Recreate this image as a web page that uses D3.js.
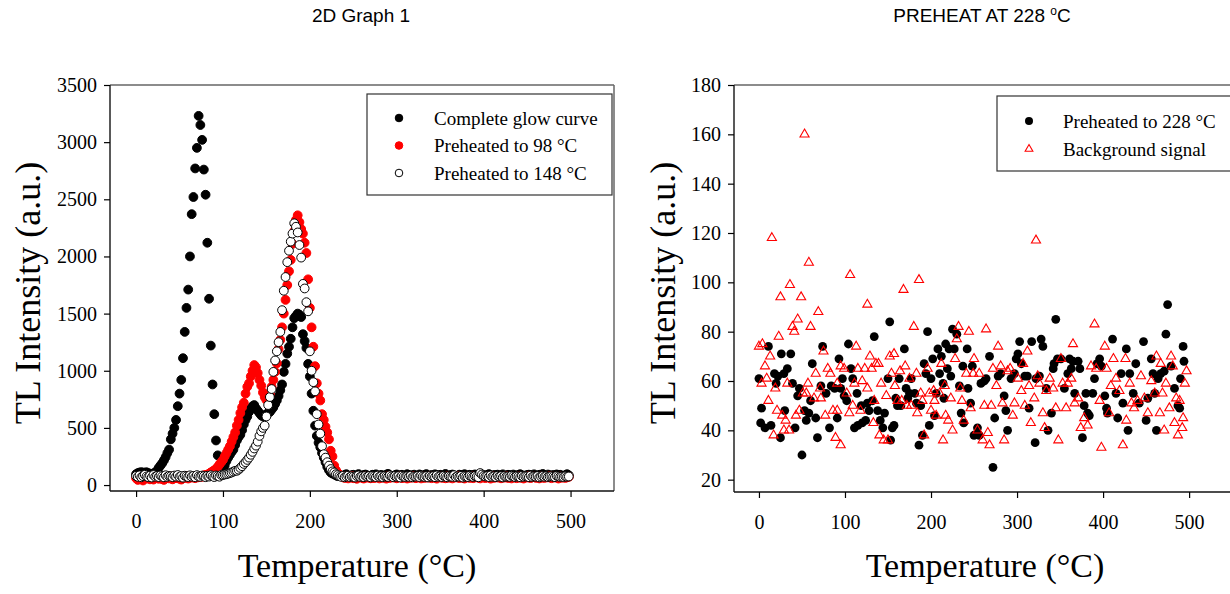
<!DOCTYPE html>
<html>
<head>
<meta charset="utf-8">
<script src="https://cdn.jsdelivr.net/npm/d3@7"></script>
<style>
  body { margin: 0; background: #fff; }
</style>
</head>
<body>
<script>
// ---- data: left panel, readings every 2 °C from 0 to 498 ----
const glowTemps = d3.range(0, 500, 2);

// complete glow curve (black filled circles)
const completeGlow = [
  95,105,110,112,110,108,112,105,100,98,102,
  110,125,150,170,190,215,245,280,310,
  400,450,500,570,690,800,920,1110,1340,1550,1710,2000,2370,2520,2770,2950,3230,3150,3020,2760,2540,2120,1630,1220,880,620,390,260,
  160,120,130,170,210,240,265,290,310,350,390,420,
  440,480,530,570,600,640,670,690,700,670,650,630,610,600,610,620,630,640,660,680,710,740,780,830,880,990,1060,1150,1210,1280,1380,
  1460,1480,1500,1490,1470,1320,1260,1200,1060,950,800,650,520,430,370,330,280,240,200,160,130,110,100,95,
  85,78,92,80,75,88,95,82,70,86,90,78,84,96,80,74,88,92,85,79,
  72,90,86,94,81,77,89,83,75,92,98,84,80,71,87,93,79,85,90,76,
  82,95,88,74,86,91,80,78,93,85,72,89,96,83,77,88,81,94,86,75,
  90,84,79,97,82,73,88,92,85,80,76,91,87,83,95,78,84,90,74,88,
  93,81,86,79,92,85,77,89,96,82,75,88,84,91,80,86,94,78,83,90,
  87,76,92,85,81,89,95,79,84,73,88,91,86,80,94,82,77,90,85,97,
  83,78,92,86,80,88,75,93,84,90,82,79,87,95,85
];

// preheated to 98 °C (red filled circles)
const preheat98 = [
  60,45,70,55,40,65,58,72,50,62,48,75,60,55,68,52,45,70,63,58,
  75,50,66,60,72,55,48,68,62,78,57,70,65,74,60,80,68,75,72,85,88,
  90,100,110,120,130,140,160,180,200,220,
  250,280,310,340,380,420,460,520,570,630,
  680,720,800,860,890,950,1000,1050,1030,980,
  920,870,810,770,745,770,800,860,920,990,
  1065,1190,1270,1380,1500,1620,1750,1870,1970,2110,
  2220,2320,2360,2300,2240,2200,2120,2030,1800,1550,
  1380,1210,1040,890,800,740,620,570,510,460,
  400,300,250,170,130,105,90,80,
  70,62,75,58,66,80,60,72,55,68,74,63,57,78,65,70,59,73,61,67,
  76,58,69,64,72,56,80,62,70,66,74,59,68,77,61,65,72,57,70,63,
  79,66,60,73,68,58,75,62,70,65,78,60,67,72,56,69,74,63,71,59,
  76,64,68,58,73,66,80,61,70,65,57,74,68,62,77,60,69,72,64,58,
  75,67,61,73,70,56,78,63,68,66,74,59,71,65,77,62,69,58,73,67,
  60,76,64,70,57,72,66,79,61,68,74,63,70,58,75,65,62,71,67,78,
  60,73,66,69,57,74,64,70,62,68,72
];

// preheated to 148 °C (open circles)
const preheat148 = [
  80,72,85,68,78,90,75,70,82,66,88,74,79,70,84,76,68,86,72,80,
  77,69,83,74,88,71,79,65,82,76,70,85,73,80,68,87,75,72,83,78,
  69,81,74,86,77,70,84,79,73,88,88,92,95,100,105,110,118,125,
  125,135,150,165,185,200,220,240,265,290,
  320,345,380,430,470,500,520,600,700,770,
  840,990,1090,1170,1250,1340,1530,1700,1820,1950,
  2050,2130,2200,2290,2260,2210,2100,1990,1760,1720,
  1600,1520,1170,1000,900,820,620,530,450,340,
  270,240,200,170,140,120,110,95,88,
  78,72,80,68,75,82,70,77,73,66,79,84,71,76,69,81,74,78,67,80,
  75,70,83,72,77,68,79,74,71,85,76,69,80,73,78,66,82,75,70,77,
  72,81,68,76,74,79,70,83,75,71,78,67,80,73,77,69,84,72,76,70,
  81,74,68,79,75,72,86,70,77,73,80,66,78,74,70,82,76,71,79,73,
  68,105,92,80,75,77,70,84,72,76,69,81,74,78,67,79,73,75,71,82,
  76,70,78,74,68,80,72,77,75,69,83,71,76,73,79,67,74,80,72,77,
  70,75,78,73,69,81,76,72,74,70,77,73,75
];

// ---- data: right panel ----
const pre228Temps = [
  0,3,2,7,11,14,18,20,22,25,26,29,30,33,37,39,42,45,47,50,53,55,58,60,62,66,68,72,74,78,
  82,84,88,91,93,95,97,99,102,104,107,109,111,114,115,119,120,124,126,128,132,134,138,141,144,146,150,152,153,155,
  157,159,161,163,165,169,171,173,175,177,181,183,186,188,190,192,194,196,198,200,202,204,206,208,210,212,214,215,217,219,
  221,223,225,227,230,233,235,237,238,242,243,246,248,250,
  254,256,258,262,264,268,272,274,278,281,285,287,289,293,297,299,301,303,305,309,312,314,317,321,322,326,328,330,334,336,
  340,342,343,345,347,351,355,359,361,363,365,367,371,373,376,378,380,382,384,388,390,393,396,398,402,404,405,411,415,417,
  421,423,427,429,431,435,438,442,447,450,452,456,458,460,462,464,467,471,473,475,479,483,487,489,490,493,494
];
const pre228Values = [
  61,49,43,41,74,42,63,59,62,37,71,63,48,65,71,59,41,54,57,30,48,44,47,52,67,45,37,58,74,55,
  41,58,57,45,69,57,61,54,52,75,65,61,41,55,42,50,43,44,51,48,52,78,48,44,41,47,61,84,36,41,
  42,53,50,61,50,73,57,53,55,61,55,51,34,50,38,67,63,80,42,61,69,46,55,73,63,70,59,53,75,65,
  73,62,81,73,79,58,47,66,43,73,57,51,66,38,
  41,38,59,60,61,70,25,45,62,63,54,48,40,61,63,69,71,76,67,62,62,49,76,35,61,62,77,74,57,40,
  47,65,67,85,69,69,57,63,69,65,68,55,68,65,37,50,55,47,46,55,61,67,69,66,54,49,47,77,55,45,
  63,51,73,40,63,55,67,51,76,44,53,69,63,55,40,61,63,64,79,91,66,57,50,49,61,74,68
];

const bgTemps = [
  53,15,58,36,25,49,106,186,168,126,69,45,39,41,60,23,4,0,13,7,9,3,19,33,11,21,27,31,29,35,
  17,43,47,51,55,57,64,66,71,72,75,77,80,83,86,89,91,95,91,95,99,102,105,109,111,113,115,118,120,123,
  126,129,131,134,136,139,133,140,142,145,148,150,152,154,157,158,161,164,166,170,172,175,177,180,183,184,188,190,192,196,
  198,200,203,204,206,210,212,214,216,217,220,223,225,228,230,232,234,236,238,241,244,246,249,250,
  264,266,268,260,254,256,262,270,272,276,278,281,283,285,289,292,295,297,301,305,307,309,312,314,316,320,322,324,326,330,
  332,334,338,342,345,348,351,353,357,359,363,365,367,371,374,378,382,386,390,392,396,398,402,404,407,409,412,415,419,423,
  426,427,431,433,436,440,444,448,452,456,460,462,466,467,469,471,473,477,479,481,483,485,487,489,492,493,495,497
];
const bgValues = [
  160,118,108,99,94,94,103,101,97,91,88,85,82,80,82,78,75,74,70,66,61,59,57,59,52,48,46,44,40,40,
  38,46,48,55,55,59,53,63,57,53,72,46,65,63,48,37,48,34,59,66,65,55,47,50,59,74,65,48,60,65,
  57,70,65,52,67,67,43,38,59,36,54,36,70,63,71,58,52,64,52,66,50,61,50,82,63,47,55,52,38,65,
  55,48,56,52,46,55,67,36,58,46,44,53,40,69,77,82,57,52,44,63,80,49,63,69,
  81,39,34,36,40,63,50,50,65,58,74,66,51,36,64,65,46,51,61,56,67,50,72,58,43,53,117,62,59,47,
  41,56,61,57,49,36,69,59,49,59,61,75,51,53,41,45,42,66,83,65,52,33,74,65,47,58,69,61,56,34,
  69,44,59,51,49,52,62,53,47,60,55,70,47,67,55,40,59,49,70,66,43,53,38,52,41,45,59,64
];

const xTicks = [0, 100, 200, 300, 400, 500];
const leftYTicks = [0, 500, 1000, 1500, 2000, 2500, 3000, 3500];
const rightYTicks = [20, 40, 60, 80, 100, 120, 140, 160, 180];

const serif = "'Liberation Serif', 'Times New Roman', serif";
const sans = "'Liberation Sans', Arial, sans-serif";

const svg = d3.select("body").append("svg")
  .attr("width", 1230)
  .attr("height", 594);

// ---- scales ----
const xL = d3.scaleLinear().domain([-30, 550]).range([110, 614]);
const yL = d3.scaleLinear().domain([-52, 3500]).range([491, 85]);
const xR = d3.scaleLinear().domain([-29, 551]).range([734, 1233]);
const yR = d3.scaleLinear().domain([15, 180]).range([492, 85]);

function styleAxis(g) {
  g.select(".domain").remove();
  g.selectAll(".tick line").attr("stroke", "#000").attr("stroke-width", 1.2);
  g.selectAll(".tick text")
    .attr("font-family", serif)
    .attr("font-size", 20)
    .attr("fill", "#000");
}

function drawFrame(x, y) {
  const [x0, x1] = x.range();
  const [y1, y0] = y.range();
  svg.append("line").attr("x1", x0).attr("x2", x1).attr("y1", y0).attr("y2", y0)
    .attr("stroke", "#666").attr("stroke-width", 1.5);
  svg.append("line").attr("x1", x1).attr("x2", x1).attr("y1", y0).attr("y2", y1)
    .attr("stroke", "#666").attr("stroke-width", 1.5);
  svg.append("line").attr("x1", x0).attr("x2", x0).attr("y1", y0).attr("y2", y1)
    .attr("stroke", "#222").attr("stroke-width", 1.5);
  svg.append("line").attr("x1", x0).attr("x2", x1).attr("y1", y1).attr("y2", y1)
    .attr("stroke", "#111").attr("stroke-width", 1.5);
}

function drawAxes(x, y, yTicks) {
  svg.append("g")
    .attr("transform", `translate(0,${y.range()[0]})`)
    .call(d3.axisBottom(x).tickValues(xTicks).tickFormat(d3.format("d"))
      .tickSize(6).tickPadding(17).tickSizeOuter(0))
    .call(styleAxis);
  svg.append("g")
    .attr("transform", `translate(${x.range()[0]},0)`)
    .call(d3.axisLeft(y).tickValues(yTicks).tickFormat(d3.format("d"))
      .tickSize(6).tickPadding(7).tickSizeOuter(0))
    .call(styleAxis);
}

// ---- left panel ----
svg.append("text")
  .attr("x", 361).attr("y", 22)
  .attr("text-anchor", "middle")
  .attr("font-family", sans).attr("font-size", 19)
  .text("2D Graph 1");

const leftSeries = [
  { values: completeGlow, fill: "#000", stroke: "#000" },
  { values: preheat98, fill: "#f00", stroke: "#f00" },
  { values: preheat148, fill: "#fff", stroke: "#000" }
];

leftSeries.forEach(s => {
  svg.append("g")
    .selectAll("circle")
    .data(glowTemps.map((t, i) => [t, s.values[i]]))
    .join("circle")
      .attr("cx", d => xL(d[0]))
      .attr("cy", d => yL(d[1]))
      .attr("r", 4.4)
      .attr("fill", s.fill)
      .attr("stroke", s.stroke)
      .attr("stroke-width", 1);
});

drawFrame(xL, yL);
drawAxes(xL, yL, leftYTicks);

svg.append("text")
  .attr("x", 357).attr("y", 577)
  .attr("text-anchor", "middle")
  .attr("font-family", serif).attr("font-size", 34)
  .text("Temperature (°C)");

svg.append("text")
  .attr("transform", "translate(40,293) rotate(-90)")
  .attr("text-anchor", "middle")
  .attr("font-family", serif).attr("font-size", 36)
  .text("TL Intensity (a.u.)");

// left legend
const legL = svg.append("g");
legL.append("rect")
  .attr("x", 367).attr("y", 94).attr("width", 245).attr("height", 101)
  .attr("fill", "#fff").attr("stroke", "#333").attr("stroke-width", 1.2);
const legLItems = [
  { label: "Complete glow curve", fill: "#000", stroke: "#000" },
  { label: "Preheated to 98 °C", fill: "#f00", stroke: "#f00" },
  { label: "Preheated to 148 °C", fill: "#fff", stroke: "#000" }
];
legLItems.forEach((d, i) => {
  const yy = 118 + i * 27.5;
  legL.append("circle").attr("cx", 399).attr("cy", yy).attr("r", 3.8)
    .attr("fill", d.fill).attr("stroke", d.stroke).attr("stroke-width", 1);
  legL.append("text").attr("x", 434).attr("y", yy + 6.5)
    .attr("font-family", serif).attr("font-size", 19)
    .text(d.label);
});

// ---- right panel ----
const rt = svg.append("text")
  .attr("x", 982).attr("y", 22)
  .attr("text-anchor", "middle")
  .attr("font-family", sans).attr("font-size", 19);
rt.append("tspan").text("PREHEAT AT 228 ");
rt.append("tspan").attr("dy", -7).attr("font-size", 12).text("o");
rt.append("tspan").attr("dy", 7).text("C");

svg.append("g")
  .selectAll("circle")
  .data(pre228Temps.map((t, i) => [t, pre228Values[i]]))
  .join("circle")
    .attr("cx", d => xR(d[0]))
    .attr("cy", d => yR(d[1]))
    .attr("r", 4.4)
    .attr("fill", "#000");

const tri = d3.symbol(d3.symbolTriangle, 36);
svg.append("g")
  .selectAll("path")
  .data(bgTemps.map((t, i) => [t, bgValues[i]]))
  .join("path")
    .attr("transform", d => `translate(${xR(d[0])},${yR(d[1])})`)
    .attr("d", tri)
    .attr("fill", "none")
    .attr("stroke", "#f00")
    .attr("stroke-width", 1.1);

drawFrame(xR, yR);
drawAxes(xR, yR, rightYTicks);

svg.append("text")
  .attr("x", 985).attr("y", 577)
  .attr("text-anchor", "middle")
  .attr("font-family", serif).attr("font-size", 34)
  .text("Temperature (°C)");

svg.append("text")
  .attr("transform", "translate(675,293) rotate(-90)")
  .attr("text-anchor", "middle")
  .attr("font-family", serif).attr("font-size", 36)
  .text("TL Intensity (a.u.)");

// right legend
const legR = svg.append("g");
legR.append("rect")
  .attr("x", 997).attr("y", 96).attr("width", 245).attr("height", 75)
  .attr("fill", "#fff").attr("stroke", "#333").attr("stroke-width", 1.2);
legR.append("circle").attr("cx", 1029).attr("cy", 121).attr("r", 4).attr("fill", "#000");
legR.append("path").attr("transform", "translate(1029,149)")
  .attr("d", d3.symbol(d3.symbolTriangle, 26))
  .attr("fill", "none").attr("stroke", "#f00").attr("stroke-width", 1.1);
legR.append("text").attr("x", 1063).attr("y", 127.5)
  .attr("font-family", serif).attr("font-size", 19)
  .text("Preheated to 228 °C");
legR.append("text").attr("x", 1063).attr("y", 155.5)
  .attr("font-family", serif).attr("font-size", 19)
  .text("Background signal");
</script>
</body>
</html>
